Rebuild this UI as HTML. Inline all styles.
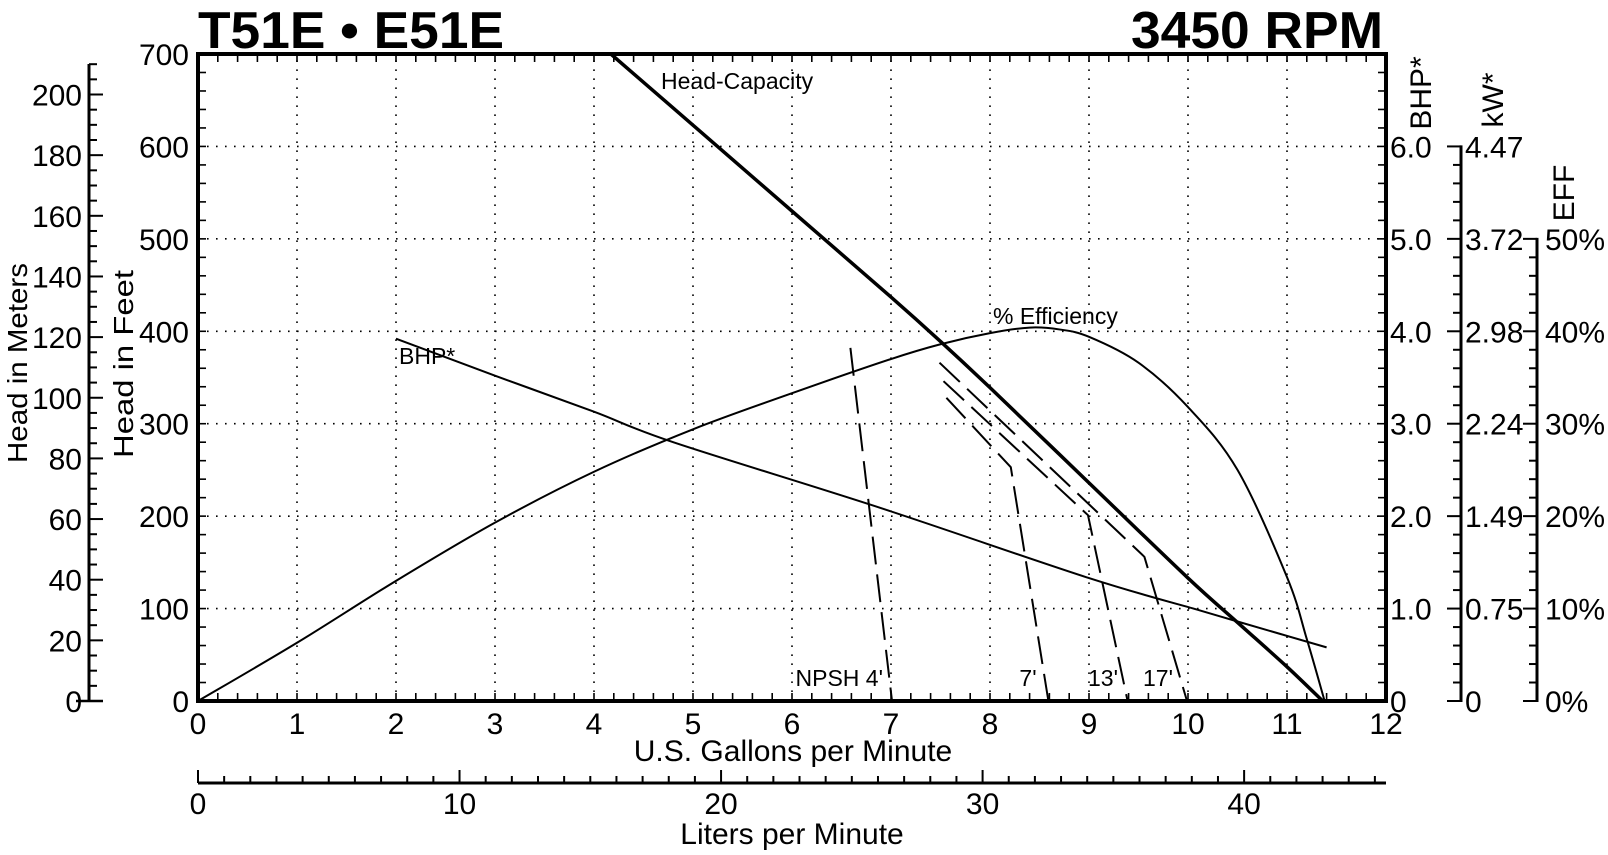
<!DOCTYPE html>
<html><head><meta charset="utf-8"><style>
html,body{margin:0;padding:0;background:#fff;}
svg{display:block;font-family:"Liberation Sans",Arial,sans-serif;}
</style></head><body>
<svg id="chart" width="1608" height="855" viewBox="0 0 1608 855" xmlns="http://www.w3.org/2000/svg">
<text x="198" y="48" font-size="52" font-weight="bold" textLength="306" lengthAdjust="spacingAndGlyphs">T51E • E51E</text>
<text x="1383" y="48" font-size="52" font-weight="bold" text-anchor="end" textLength="252" lengthAdjust="spacingAndGlyphs">3450 RPM</text>
<g id="g"></g>
</svg>
<script>
const gpmTicks=[0,1,2,3,4,5,6,7,8,9,10,11,12];
const ftTicks=[0,100,200,300,400,500,600,700];
const mTicks=[0,20,40,60,80,100,120,140,160,180,200];
const bhpTicks=[0,1,2,3,4,5,6];
const bhpLabels=["0","1.0","2.0","3.0","4.0","5.0","6.0"];
const kwLabels=["0","0.75","1.49","2.24","2.98","3.72","4.47"];
const effTicks=[0,10,20,30,40,50];
const lpmTicks=[0,10,20,30,40];
const headGpm=[4.17,5,6,7,7.5,8,9,10,10.5,11,11.36];
const headFt=[700,623,530,437,389,339,236,133,85,37,0];
const effGpm=[0,1,2,3,4,5,6,7,7.5,8,8.4,8.7,9,9.5,10,10.5,11,11.2,11.38];
const effPct=[0,6.3,13.0,19.3,24.8,29.4,33.3,37.0,38.6,39.8,40.4,40.2,39.4,36.6,31.8,25,13.4,6.7,0];
const bhpGpm=[2,3,4,4.8,6.89,9,10.12,10.5,11.4];
const bhpVal=[3.92,3.52,3.13,2.80,2.09,1.33,0.98,0.86,0.58];
const npshNames=["NPSH 4'","7'","13'","17'"];
const npshGpm=[[6.59,7.01],[7.56,8.21,8.59],[7.53,8.99,9.39],[7.49,9.56,9.99]];
const npshFt=[[382,0],[328,253,0],[346,201,0],[366,156,0]];

const X0=198,X1=1386,Y0=701,Y1=54;
const x=g=>X0+g*(X1-X0)/12;
const y=f=>Y0-f*(Y0-Y1)/700;
const yb=b=>y(b*100), ye=e=>y(e*10), ym=m=>y(m*3.28084);
const xl=l=>x(l*0.264172);
const NS="http://www.w3.org/2000/svg";
const G=document.getElementById('g');
function el(t,a,p){const e=document.createElementNS(NS,t);for(const k in a)e.setAttribute(k,a[k]);(p||G).appendChild(e);return e;}
function line(x1,y1,x2,y2,w,extra){return el('line',Object.assign({x1,y1,x2,y2,stroke:'#000','stroke-width':w},extra||{}));}
function txt(s,xx,yy,size,anchor,extra){const t=el('text',Object.assign({x:xx,y:yy,'font-size':size,'text-anchor':anchor||'start'},extra||{}));t.textContent=s;return t;}
const FS=30;

gpmTicks.forEach(g=>{if(g>0&&g<12){const l=line(x(g),Y0,x(g),Y1,1.6,{'stroke-dasharray':'1.6 7.4'});

}});
ftTicks.forEach(f=>{if(f>0&&f<700){const l=line(X0,y(f),X1,y(f),1.6,{'stroke-dasharray':'1.6 7.4'});

}});
for(let i=1;i<60;i++){const g=i*0.2,xx=x(g);line(xx,Y0,xx,Y0-8,1.6);line(xx,Y1,xx,Y1+8,1.6);}
for(let i=1;i<35;i++){const yy=y(i*20);line(X0,yy,X0+8,yy,1.6);line(X1,yy,X1-8,yy,1.6);}
const fr=el('rect',{x:X0,y:Y1,width:X1-X0,height:Y0-Y1,fill:'none',stroke:'#000','stroke-width':4});


gpmTicks.forEach(g=>{const t=txt(String(g),x(g),734,FS,'middle');

});
const xt=txt('U.S. Gallons per Minute',793,761,FS,'middle');


ftTicks.forEach(f=>{const t=txt(String(f),189,y(f)+11,FS,'end');

});
const ft=txt('Head in Feet',0,0,28,'middle',{transform:'translate(133,364) rotate(-90)',textLength:188,lengthAdjust:'spacingAndGlyphs'});


line(89,Y0+1,89,64,3);
for(let m=5;m<=210;m+=5){const yy=ym(m);line(89,yy,m%20===0?103:97,yy,2);}
line(76,Y0,103,Y0,2.5);
mTicks.forEach(m=>{const t=txt(String(m),82,ym(m)+11,FS,'end');

});
const mt=txt('Head in Meters',0,0,28,'middle',{transform:'translate(27,363) rotate(-90)',textLength:200,lengthAdjust:'spacingAndGlyphs'});


bhpTicks.forEach((b,i)=>{const t=txt(bhpLabels[i],1390,yb(b)+11,FS,'start');

});
const bt=txt('BHP*',0,0,FS,'middle',{transform:'translate(1431,93) rotate(-90)'});


line(1461,Y0+1,1461,yb(6)-1,3);
for(let i=0;i<=30;i++){const yy=yb(i*0.2);line(1461,yy,i%5===0?1447:1453,yy,2);}
bhpTicks.forEach((b,i)=>{const t=txt(kwLabels[i],1465,yb(b)+11,FS,'start');

});
const kt=txt('kW*',0,0,FS,'middle',{transform:'translate(1503,100) rotate(-90)'});


line(1537,Y0+1,1537,ye(50)-1,3);
for(let i=0;i<=25;i++){const yy=ye(i*2);line(1537,yy,i%5===0?1523:1529,yy,2);}
effTicks.forEach(e=>{const t=txt(e+'%',1545,ye(e)+11,FS,'start');

});
const et=txt('EFF',0,0,FS,'middle',{transform:'translate(1574,193) rotate(-90)'});


const LY=783;
line(X0,LY,X1,LY,3);
for(let l=0;l<=45;l++){const xx=xl(l);if(xx>X1)break;line(xx,LY,xx,l%10===0?770:776,2);}
lpmTicks.forEach(l=>{const t=txt(String(l),xl(l),814,FS,'middle');

});
const lt=txt('Liters per Minute',792,844,FS,'middle');



function path(xs,ys,fx,fy,w,dash){let d='';xs.forEach((v,i)=>{d+=(i?'L':'M')+fx(v).toFixed(1)+' '+fy(ys[i]).toFixed(1);});
const a={d,fill:'none',stroke:'#000','stroke-width':w,'stroke-linejoin':'round'};if(dash)a['stroke-dasharray']=dash;return el('path',a);}
function smooth(xs,ys,fx,fy,w){const P=xs.map((v,i)=>[fx(v),fy(ys[i])]);let d='M'+P[0][0]+' '+P[0][1];
for(let i=0;i<P.length-1;i++){const p0=P[i-1]||P[i],p1=P[i],p2=P[i+1],p3=P[i+2]||p2;
const c1=[p1[0]+(p2[0]-p0[0])/6,p1[1]+(p2[1]-p0[1])/6],c2=[p2[0]-(p3[0]-p1[0])/6,p2[1]-(p3[1]-p1[1])/6];
d+='C'+c1.join(' ')+' '+c2.join(' ')+' '+p2.join(' ');}
return el('path',{d,fill:'none',stroke:'#000','stroke-width':w});}

const bhpC=smooth(bhpGpm,bhpVal,x,yb,2);


const effC=smooth(effGpm,effPct,x,ye,2);


const hc=smooth(headGpm,headFt,x,y,3.5);


npshGpm.forEach((gs,i)=>{const p=path(gs,npshFt[i],x,y,2,'28 10');

});
const npx=[883,1028,1103,1158];
npshNames.forEach((n,i)=>{const t=txt(n,npx[i],686,23,i===0?'end':'middle');

});
const l1=txt('Head-Capacity',661,89,23,'start');


const l2=txt('% Efficiency',993,324,23,'start');


const l3=txt('BHP*',399,364,23,'start');


</script>
</body></html>
